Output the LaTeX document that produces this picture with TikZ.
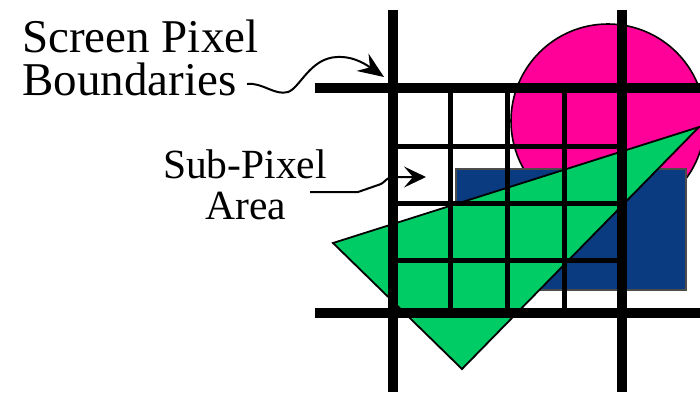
\documentclass[tikz,border=0pt]{standalone}
\usepackage{fontspec}
\setmainfont{Liberation Serif}
\usetikzlibrary{arrows.meta}
\definecolor{pinkc}{RGB}{255,0,153}
\definecolor{greenc}{RGB}{0,204,102}
\definecolor{bluec}{RGB}{10,58,128}
\tikzset{
  thickgrid/.style={line width=10.6pt, black},
  thingrid/.style={line width=5pt, black},
  bigtext/.style={inner sep=0pt, font=\fontsize{47}{47}\selectfont},
  midtext/.style={inner sep=0pt, font=\fontsize{41.5}{41.5}\selectfont},
  callout/.style={line width=2pt, black},
}
\begin{document}
\begin{tikzpicture}[x=1pt,y=-1pt]
\useasboundingbox (0,0) rectangle (700,392);
% shapes
\fill[pinkc, draw=black, line width=1.6pt] (608,121) circle (97);
\filldraw[fill=bluec, draw=black!70, line width=1.2pt] (456,169) rectangle (686,290);
\filldraw[fill=greenc, draw=black, line width=1.8pt, line join=miter] (333,243) -- (699,127) -- (462,369) -- cycle;
% sub-pixel grid
\foreach \x in {450,507,564} \draw[thingrid] (\x,88) -- (\x,313);
\foreach \y in {146,203,260} \draw[thingrid] (393,\y) -- (622,\y);
% screen pixel boundaries
\draw[thickgrid] (393,9.5) -- (393,392);
\draw[thickgrid] (622,9.5) -- (622,392);
\draw[thickgrid] (315,88) -- (700,88);
\draw[thickgrid] (315,313) -- (700,313);
% labels
\node[bigtext, anchor=base west] (scr) at (22,52) {Screen Pixel};
\node[bigtext, anchor=base west] (bnd) at (22,95) {Boundaries};
\node[midtext, anchor=base] (sub) at (245,178) {Sub-Pixel};
\node[midtext, anchor=base] (area) at (246,219) {Area};
% callouts
\coordinate (c1s) at (247,84);
\coordinate (c1t) at (384,77);
\draw[callout, -{Stealth[length=26pt,width=21pt,inset=9pt]}]
  (c1s) .. controls (262,82) and (275,96) .. (288,92)
        .. controls (300,88) and (310,58) .. (337,57)
        .. controls (355,56) and (368,66) .. (c1t);
\coordinate (c2s) at (310,192);
\coordinate (c2t) at (426,177);
\draw[callout, -{Stealth[length=22pt,width=21pt,inset=9pt]}]
  (c2s) -- (358,192) -- (381,184) .. controls (385,182) and (387,177) .. (393,177) -- (c2t);
\end{tikzpicture}
\end{document}
